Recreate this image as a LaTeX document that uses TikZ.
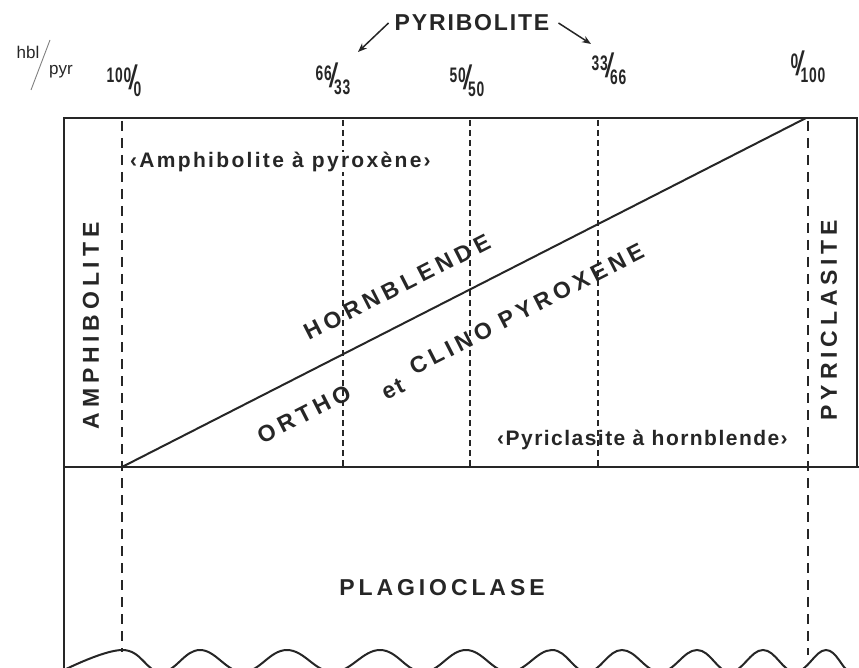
\documentclass[tikz,border=0pt]{standalone}
\usepackage{fontspec}
\setmainfont{Liberation Sans}
\usepackage{graphicx}
\usetikzlibrary{arrows.meta}
\definecolor{ink}{HTML}{262626}
% spaced bold capitals, #1 = size, #2 = tracking
\newcommand\trackbf[2]{\fontsize{#1}{#1}\selectfont\bfseries\addfontfeature{LetterSpace=#2}}
% hbl/pyr ratio as printed: upper number, long slash, lower number
\newcommand\hpratio[2]{\raisebox{0.7ex}{\scalebox{0.66}[1]{#1}}\kern-0.14em{\fontsize{34}{34}\selectfont\mdseries/}\kern-0.2em\raisebox{-0.6ex}{\scalebox{0.66}[1]{#2}}}

\begin{document}
\begin{tikzpicture}[x=1pt,y=-1pt,>={Stealth[length=9pt,width=7pt]},
  every node/.style={text=ink,inner sep=0pt},
  bigcaps/.style={font=\trackbf{23}{#1}},
  note/.style={font=\trackbf{21}{#1}},
  ratio/.style={font=\fontsize{21}{23}\selectfont\bfseries\addfontfeature{LetterSpace=6}},
  rim/.style={ink,line width=2.4pt},
  thickdash/.style={ink,line width=2.6pt,dash pattern=on 10pt off 7pt},
  thindash/.style={ink,line width=1.1pt,dash pattern=on 6pt off 4pt}]
\useasboundingbox (0,0) rectangle (859,668);
% header: hbl/pyr and the ratios
\node[font=\fontsize{17}{20}\selectfont] (hbl) at (28,52) {hbl};
\node[font=\fontsize{17}{20}\selectfont] (pyr) at (61,72) {pyr};
\draw[gray,line width=0.9pt] (50,40) -- (31,90);
\node[ratio] (r100) at (124,81) {\hpratio{100}{0}};
\node[ratio] (r66) at (333,79) {\hpratio{66}{33}};
\node[ratio] (r50) at (467,81) {\hpratio{50}{50}};
\node[ratio] (r33) at (609,69) {\hpratio{33}{66}};
\node[ratio] (r0) at (808,67) {\hpratio{0}{100}};
\node[bigcaps=8] (pyrib) at (472,23) {PYRIBOLITE};
\coordinate (pl) at (358,52);
\coordinate (pr) at (591,44);
\draw[->,ink,line width=1.5pt] ([xshift=-6pt]pyrib.west) -- (pl);
\draw[->,ink,line width=1.5pt] ([xshift=9pt]pyrib.east) -- (pr);
% frame
\coordinate (tl) at (64,118);
\coordinate (tr) at (857,118);
\coordinate (ml) at (64,467);
\coordinate (mr) at (859,467);
\coordinate (a0) at (122,467);
\coordinate (a1) at (806,118);
\draw[rim] (64,672) -- (tl) -- (tr) -- (857,467);
\draw[rim] (ml) -- (mr);
\draw[ink,line width=2pt] (a0) -- (a1);
% dividing lines
\draw[thickdash] (122,121) -- (122,652);
\draw[thickdash] (808,121) -- (808,655);
\foreach \xv in {343,470,598}
  \draw[thindash] (\xv,120) -- (\xv,466);
% wavy lower edge
\draw[ink,line width=2pt] plot[smooth,tension=0.7] coordinates {
  (58,673) (122,650) (161,672) (200,650) (243,672) (287,650) (333,672)
  (380,650) (423,672) (466,650) (509,672) (552,650) (587,672) (622,650)
  (660,672) (697,650) (730,672) (763,650) (795,672) (826,650) (850,672) (866,662)};
% field names
\node[note=11,anchor=west,fill=white] (amphpx) at (130,162) {‹Amphibolite à pyroxène›};
\node[note=7,anchor=west] (pyclhb) at (497,440) {‹Pyriclasite à hornblende›};
\node[bigcaps=21,rotate=90] (amph) at (91,326) {AMPHIBOLITE};
\node[bigcaps=21,rotate=90] (pycl) at (829,320) {PYRICLASITE};
\node[bigcaps=21,rotate=27] (hbd) at (397,287) {HORNBLENDE};
\node[bigcaps=20,rotate=27] (ortho) at (304,414) {ORTHO};
\node[bigcaps=8,rotate=27] (et) at (393,389) {et};
\node[bigcaps=20,rotate=27] (clino) at (451,348) {CLINO};
\node[bigcaps=20,rotate=27] (pyrox) at (571,286) {PYROXENE};
\node[bigcaps=17] (plag) at (442,588) {PLAGIOCLASE};
\end{tikzpicture}
\end{document}
